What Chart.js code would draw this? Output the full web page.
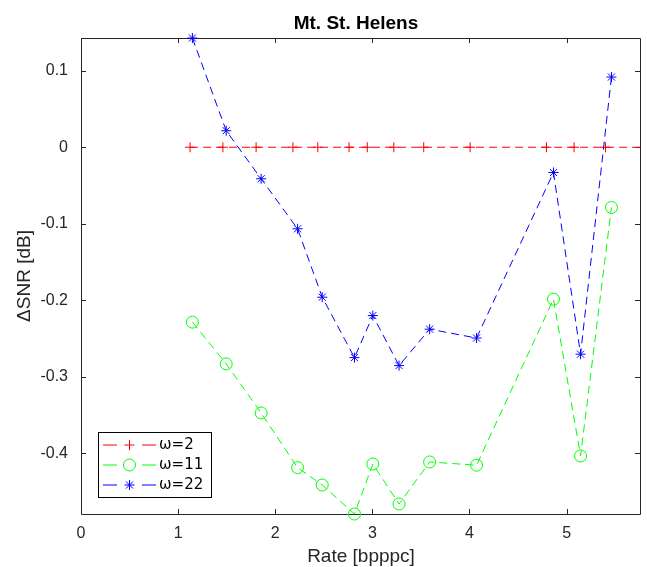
<!DOCTYPE html>
<html>
<head>
<meta charset="utf-8">
<script src="https://cdn.jsdelivr.net/npm/chart.js@4.4.1/dist/chart.umd.min.js"></script>
<style>
body { margin: 0; background: #fff; }
#wrap { width: 647px; height: 567px; }
</style>
</head>
<body>
<div id="wrap"><canvas id="myChart1" width="647" height="567"></canvas></div>
<script>
// values
var rate2 = [1.123, 1.461, 1.803, 2.182, 2.438, 2.760, 2.948, 3.221, 3.529, 4.007, 4.793, 5.077, 5.401, 5.9];
var snr2 = [0, 0, 0, 0, 0, 0, 0, 0, 0, 0, 0, 0, 0, 0];
var rate = [1.147, 1.495, 1.855, 2.23, 2.484, 2.816, 3.005, 3.275, 3.59, 4.073, 4.865, 5.144, 5.462];
var snr11 = [-0.2286, -0.2832, -0.3473, -0.4188, -0.4415, -0.4794, -0.414, -0.4663, -0.4114, -0.4156, -0.1986, -0.4035, -0.0787];
var snr22 = [0.1428, 0.0216, -0.0412, -0.1066, -0.196, -0.275, -0.220, -0.2854, -0.2378, -0.2494, -0.033, -0.2705, 0.0918];
var labels = ["ω=2", "ω=11", "ω=22"];
var colors = ["#ff0000", "#00ff00", "#0000ff"];
var xTicks = [0, 1, 2, 3, 4, 5];
var xTickLabels = ["0", "1", "2", "3", "4", "5"];
var yTicks = [-0.4, -0.3, -0.2, -0.1, 0, 0.1];
var yTickLabels = ["-0.4", "-0.3", "-0.2", "-0.1", "0", "0.1"];

function pts(xs, ys) {
  return xs.map(function (x, i) { return { x: x, y: ys[i] }; });
}

var axisColor = "#262626";
var fam = "Liberation Sans, Arial, sans-serif";
var tickFont = { family: fam, size: 16 };

// box, inward ticks, title, axis titles and legend
var decor = {
  id: "decor",
  beforeDatasetsDraw: function (chart) {
    var c = chart.ctx, a = chart.chartArea;
    var xs = chart.scales.x, ys = chart.scales.y;
    c.save();
    c.strokeStyle = axisColor;
    c.lineWidth = 1;
    c.setLineDash([]);
    c.beginPath();
    c.rect(Math.round(a.left) + 0.5, Math.round(a.top) + 0.5, Math.round(a.right - a.left), Math.round(a.bottom - a.top));
    xTicks.forEach(function (v) {
      var p = Math.round(xs.getPixelForValue(v)) + 0.5;
      c.moveTo(p, a.bottom); c.lineTo(p, a.bottom - 5);
      c.moveTo(p, a.top); c.lineTo(p, a.top + 5);
    });
    yTicks.forEach(function (v) {
      var p = Math.round(ys.getPixelForValue(v)) + 0.5;
      c.moveTo(a.left, p); c.lineTo(a.left + 5, p);
      c.moveTo(a.right, p); c.lineTo(a.right - 5, p);
    });
    c.stroke();
    c.restore();
  },
  afterDraw: function (chart) {
    var c = chart.ctx, a = chart.chartArea;
    c.save();
    c.fillStyle = "#000";
    c.textAlign = "center";
    c.textBaseline = "alphabetic";
    c.font = "bold 19px " + fam;
    c.fillText("Mt. St. Helens", 356, 28.5);
    c.fillStyle = axisColor;
    c.font = "19px " + fam;
    c.fillText("Rate [bpppc]", 361, 561.5);
    c.translate(30, (a.top + a.bottom) / 2);
    c.rotate(-Math.PI / 2);
    c.fillText("ΔSNR [dB]", 0, 0);
    c.restore();

    // legend
    c.save();
    c.setLineDash([]);
    c.fillStyle = "#fff";
    c.fillRect(98.5, 432.5, 113, 65);
    c.strokeStyle = "#000";
    c.lineWidth = 1;
    c.strokeRect(98.5, 432.5, 113, 65);
    var rows = [445, 465, 485];
    chart.data.datasets.forEach(function (ds, i) {
      var y = rows[i];
      c.strokeStyle = colors[i];
      c.lineWidth = 1;
      c.beginPath();
      c.moveTo(103, y); c.lineTo(117, y);
      c.moveTo(142, y); c.lineTo(156, y);
      c.stroke();
      c.fillStyle = "rgba(0,0,0,0)";
      Chart.helpers.drawPoint(c, { pointStyle: ds.pointStyle, radius: ds.pointRadius, borderWidth: 1, rotation: 0 }, 129.5, y);
      c.fillStyle = "#000";
      c.font = "15px DejaVu Sans, sans-serif";
      c.textAlign = "left";
      c.textBaseline = "middle";
      c.fillText(ds.label, 159, y);
    });
    c.restore();
  }
};

var ctx = document.getElementById("myChart1");
var myChart = new Chart(ctx, {
  type: "scatter",
  data: {
    datasets: [
      {
        label: labels[0],
        data: pts(rate2, snr2),
        borderColor: colors[0],
        pointStyle: "cross",
        pointRadius: 5,
        order: 3,
        clip: { left: false, top: false, right: 0, bottom: false }
      },
      {
        label: labels[1],
        data: pts(rate, snr11),
        borderColor: colors[1],
        pointStyle: "circle",
        pointRadius: 6,
        order: 2,
        clip: false
      },
      {
        label: labels[2],
        data: pts(rate, snr22),
        borderColor: colors[2],
        pointStyle: "star",
        pointRadius: 5,
        order: 1,
        clip: false
      }
    ].map(function (d) {
      d.showLine = true;
      d.fill = false;
      d.borderWidth = 1;
      d.borderDash = [8, 5];
      d.backgroundColor = "rgba(0,0,0,0)";
      d.pointBorderColor = d.borderColor;
      d.pointBackgroundColor = "rgba(0,0,0,0)";
      d.pointBorderWidth = 1;
      d.pointHoverRadius = d.pointRadius;
      return d;
    })
  },
  options: {
    responsive: false,
    animation: false,
    layout: { padding: { left: 0, right: 4, top: 38, bottom: 0 } },
    plugins: { legend: { display: false }, tooltip: { enabled: false } },
    scales: {
      x: {
        type: "linear",
        min: 0,
        max: 5.756,
        grid: { display: false, drawTicks: false },
        border: { display: false },
        ticks: {
          color: axisColor, font: tickFont, padding: 10, maxRotation: 0,
          callback: function (v, i) { return xTickLabels[i]; }
        },
        afterBuildTicks: function (s) { s.ticks = xTicks.map(function (v) { return { value: v }; }); },
        afterFit: function (s) { s.height = 53; }
      },
      y: {
        type: "linear",
        min: -0.4794,
        max: 0.1428,
        grid: { display: false, drawTicks: false },
        border: { display: false },
        ticks: {
          color: axisColor, font: tickFont, padding: 13,
          callback: function (v, i) { return yTickLabels[i]; }
        },
        afterBuildTicks: function (s) { s.ticks = yTicks.map(function (v) { return { value: v }; }); },
        afterFit: function (s) { s.width = 81; }
      }
    }
  },
  plugins: [decor]
});
</script>
</body>
</html>
